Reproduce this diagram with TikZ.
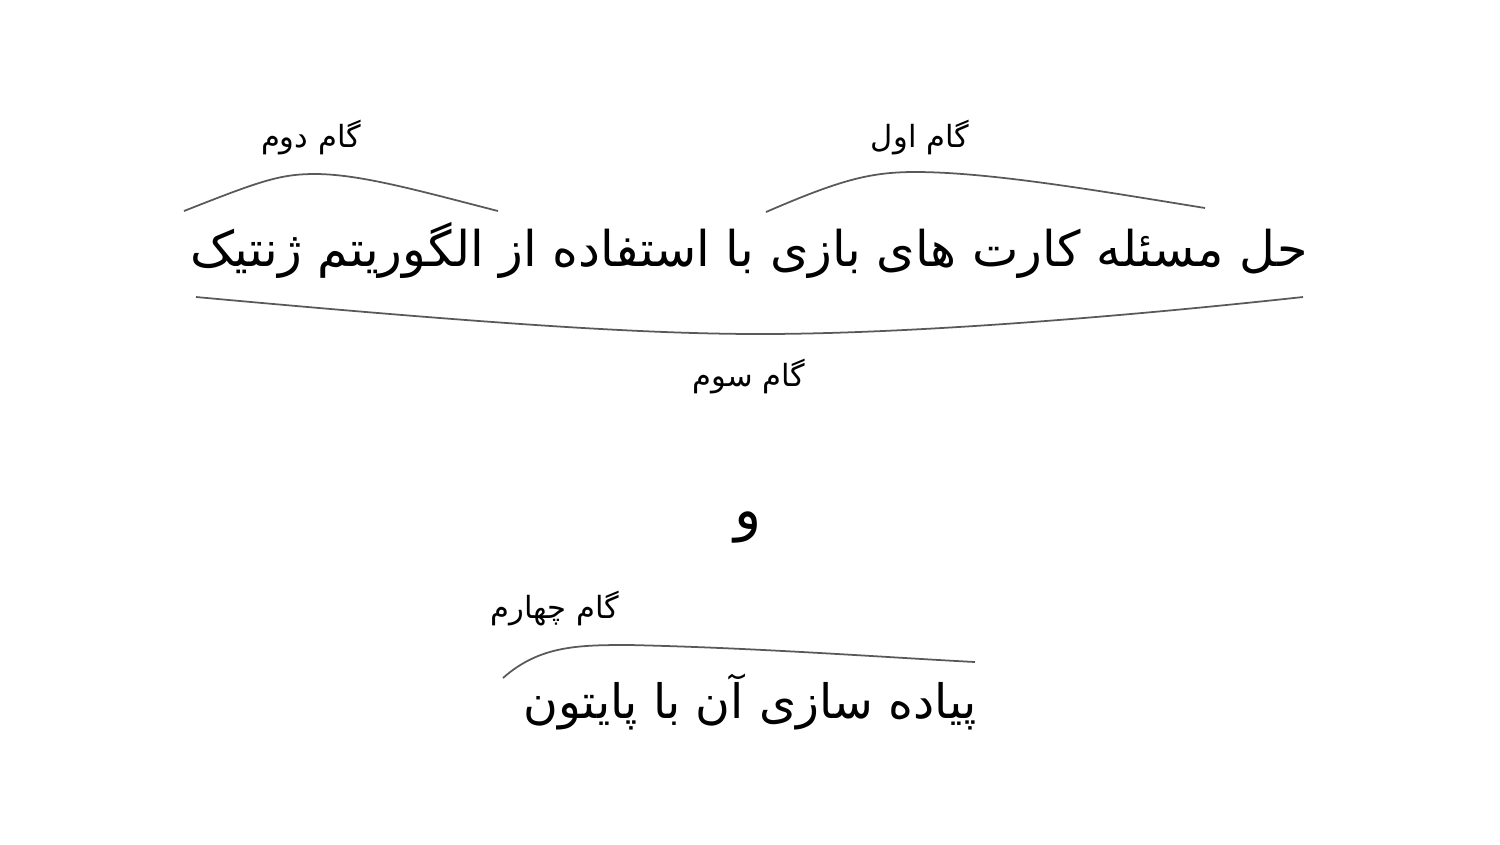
\documentclass[tikz,border=0pt]{standalone}
\usepackage{fontspec}
\newfontfamily\farsifont[Script=Arabic]{DejaVu Sans}
\TeXXeTstate=1
\usetikzlibrary{positioning}

\begin{document}
\begin{tikzpicture}
 [ x=0.01cm
 , y=-0.01cm
 , title/.style={font=\farsifont\fontsize{14}{17}\selectfont, inner sep=0pt}
 , steplabel/.style={font=\farsifont\fontsize{8.7}{10}\selectfont, inner sep=0pt}
 , bracket/.style={draw=black!65, line width=0.5pt}
 ]
  \useasboundingbox (0,0) rectangle (1500,844);

  \node [title] (main) at (749,250) {\beginR حل مسئله کارت های بازی با استفاده از الگوریتم ژنتیک\endR};
  \node [title, font=\farsifont\fontsize{16}{19}\selectfont] (and) at (748,527) {\beginR و\endR};
  \node [title, font=\farsifont\fontsize{13.5}{16}\selectfont] (impl) at (750,702) {\beginR پیاده سازی آن با پایتون\endR};

  % step labels
  \node [steplabel] (step1) at (920,138) {\beginR گام اول\endR};
  \node [steplabel] (step2) at (311,138) {\beginR گام دوم\endR};
  \node [steplabel] (step3) at (749,377) {\beginR گام سوم\endR};
  \node [steplabel] (step4) at (555,609) {\beginR گام چهارم\endR};

  % bracket ends
  \coordinate (s1a) at (766,212);
  \coordinate (s1m) at (915,172);
  \coordinate (s1b) at (1205,208);
  \coordinate (s2a) at (184,211);
  \coordinate (s2m) at (315,174);
  \coordinate (s2b) at (498,211);
  \coordinate (s3a) at (196,297);
  \coordinate (s3m) at (760,334);
  \coordinate (s3b) at (1303,297);
  \coordinate (s4a) at (503,678);
  \coordinate (s4m) at (630,645);
  \coordinate (s4b) at (975,662);

  \draw [bracket] (s1a) .. controls (840,180) and (870,172) .. (s1m)
                        .. controls (990,172) and (1100,191) .. (s1b);
  \draw [bracket] (s2a) .. controls (260,181) and (280,174) .. (s2m)
                        .. controls (360,174) and (420,191) .. (s2b);
  \draw [bracket] (s3a) .. controls (480,323) and (640,334) .. (s3m)
                        .. controls (900,334) and (1100,319) .. (s3b);
  \draw [bracket] (s4a) .. controls (540,645) and (580,645) .. (s4m)
                        .. controls (760,648) and (880,657) .. (s4b);
\end{tikzpicture}
\end{document}
